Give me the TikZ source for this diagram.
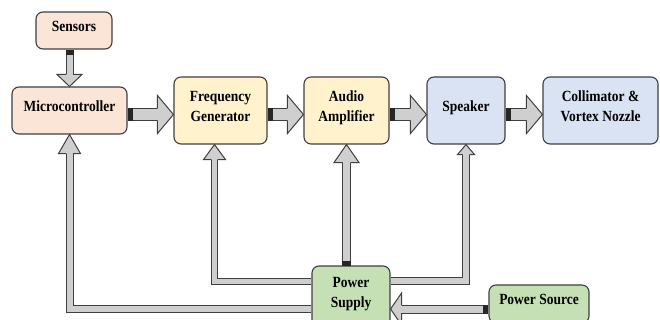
\documentclass[tikz,border=0pt]{standalone}
\usepackage{fontspec}
\setmainfont{Liberation Serif}[FakeStretch=0.87]
\usetikzlibrary{calc}
\definecolor{peach}{HTML}{FBE5D6}
\definecolor{cream}{HTML}{FFF2CC}
\definecolor{lblue}{HTML}{DAE3F3}
\definecolor{lgreen}{HTML}{C5E0B4}
\definecolor{afill}{HTML}{CFCFCF}
\definecolor{edge}{HTML}{3F3F3F}
\tikzset{
  blk/.style={draw=edge, line width=1.1pt, rounded corners=7pt, align=center,
    font=\fontsize{15.5}{20}\selectfont\bfseries, inner sep=0pt,
    execute at end node={\rule[-8.5pt]{0pt}{1pt}}},
  tailband/.style={fill=black!85},
}
% #1 shaft half width, #2 head half width, #3 head length, #4 path up to last corner, #5 last corner, #6 tip
\newcommand{\blockarrow}[6]{%
  \coordinate (hb) at ($(#6)!#3pt!(#5)$);
  \coordinate (hbx) at ($(hb)!0.6pt!(#6)$);
  \draw[line width=2*#1pt+1pt, draw=edge, line join=miter] #4 -- (hbx);
  \draw[line width=2*#1pt-1pt, draw=afill, line join=miter] #4 -- (hbx);
  \filldraw[fill=afill, draw=edge, line width=1pt, line join=miter]
    ($(hb)!#1pt!90:(#6)$) -- ($(hb)!#2pt!90:(#6)$) -- (#6) --
    ($(hb)!#2pt!-90:(#6)$) -- ($(hb)!#1pt!-90:(#6)$);
}
\begin{document}
\begin{tikzpicture}[x=1pt, y=-1pt]
\useasboundingbox (0,0) rectangle (660,320);
\clip (0,0) rectangle (660,320);
% boxes
\node[blk, fill=peach, minimum width=76pt, minimum height=37pt] (sensors) at (74,30.5) {Sensors};
\node[blk, fill=peach, minimum width=115pt, minimum height=47pt] (mc) at (69.5,110.5) {Microcontroller};
\node[blk, fill=cream, minimum width=93pt, minimum height=67pt] (fg) at (220.5,110.5) {Frequency\\Generator};
\node[blk, fill=cream, minimum width=85pt, minimum height=67pt] (aa) at (346.5,110.5) {Audio\\Amplifier};
\node[blk, fill=lblue, minimum width=78pt, minimum height=67pt] (sp) at (466,110.5) {Speaker};
\node[blk, fill=lblue, minimum width=115pt, minimum height=67pt] (co) at (600.5,110.5) {Collimator \&\\Vortex Nozzle};
\node[blk, fill=lgreen, minimum width=78pt, minimum height=62pt] (ps) at (351,297) {Power\\Supply};
\node[blk, fill=lgreen, minimum width=100pt, minimum height=38pt] (src) at (539,304) {Power Source};
% sensors -> microcontroller
\coordinate (s0) at (sensors.south -| mc.north);
\blockarrow{3.5}{12.5}{12}{(s0)}{s0}{mc.north}
\fill[tailband] ($(s0)+(-4,0)$) rectangle ++(8,5);
% signal chain
\coordinate (a1s) at ($(mc.east)+(0,4)$); \coordinate (a1t) at (fg.west |- a1s);
\blockarrow{6}{19}{16}{(a1s)}{a1s}{a1t}
\fill[tailband] ($(a1s)+(0,-6.5)$) rectangle ++(5,13);
\coordinate (a2s) at ($(fg.east)+(0,4)$); \coordinate (a2t) at (aa.west |- a2s);
\blockarrow{6}{19}{16}{(a2s)}{a2s}{a2t}
\fill[tailband] ($(a2s)+(0,-6.5)$) rectangle ++(5,13);
\coordinate (a3s) at ($(aa.east)+(0,4)$); \coordinate (a3t) at (sp.west |- a3s);
\blockarrow{6}{19}{16}{(a3s)}{a3s}{a3t}
\fill[tailband] ($(a3s)+(0,-6.5)$) rectangle ++(5,13);
\coordinate (a4s) at ($(sp.east)+(0,4)$); \coordinate (a4t) at (co.west |- a4s);
\blockarrow{6}{19}{16}{(a4s)}{a4s}{a4t}
\fill[tailband] ($(a4s)+(0,-6.5)$) rectangle ++(5,13);
% power supply -> microcontroller
\coordinate (p1s) at ($(ps.west)+(0,12)$); \coordinate (p1c) at (p1s -| mc.south);
\blockarrow{3.5}{11}{19}{(p1s) -- (p1c)}{p1c}{mc.south}
% power supply -> frequency generator
\coordinate (p2s) at ($(ps.west)+(0,-15.5)$); \coordinate (fgin) at ($(fg.south)+(-6,0)$);
\coordinate (p2c) at (p2s -| fgin);
\blockarrow{3.2}{11}{15}{(p2s) -- (p2c)}{p2c}{fgin}
% power supply -> audio amplifier
\coordinate (p3s) at (aa.south |- ps.north);
\blockarrow{4}{12.5}{18}{(p3s)}{p3s}{aa.south}
\fill[tailband] ($(p3s)+(-4.5,-4)$) rectangle ++(9,5);
% power supply -> speaker
\coordinate (p4s) at ($(ps.east)+(0,-16)$); \coordinate (p4c) at (p4s -| sp.south);
\blockarrow{3.5}{8.5}{10}{(p4s) -- (p4c)}{p4c}{sp.south}
% power source -> power supply
\coordinate (p5s) at ($(src.west)+(0,5)$); \coordinate (p5t) at (ps.east |- p5s);
\blockarrow{4}{16}{11}{(p5s)}{p5s}{p5t}
\fill[tailband] ($(p5s)+(-5,-4.5)$) rectangle ++(5,9);
\end{tikzpicture}
\end{document}
